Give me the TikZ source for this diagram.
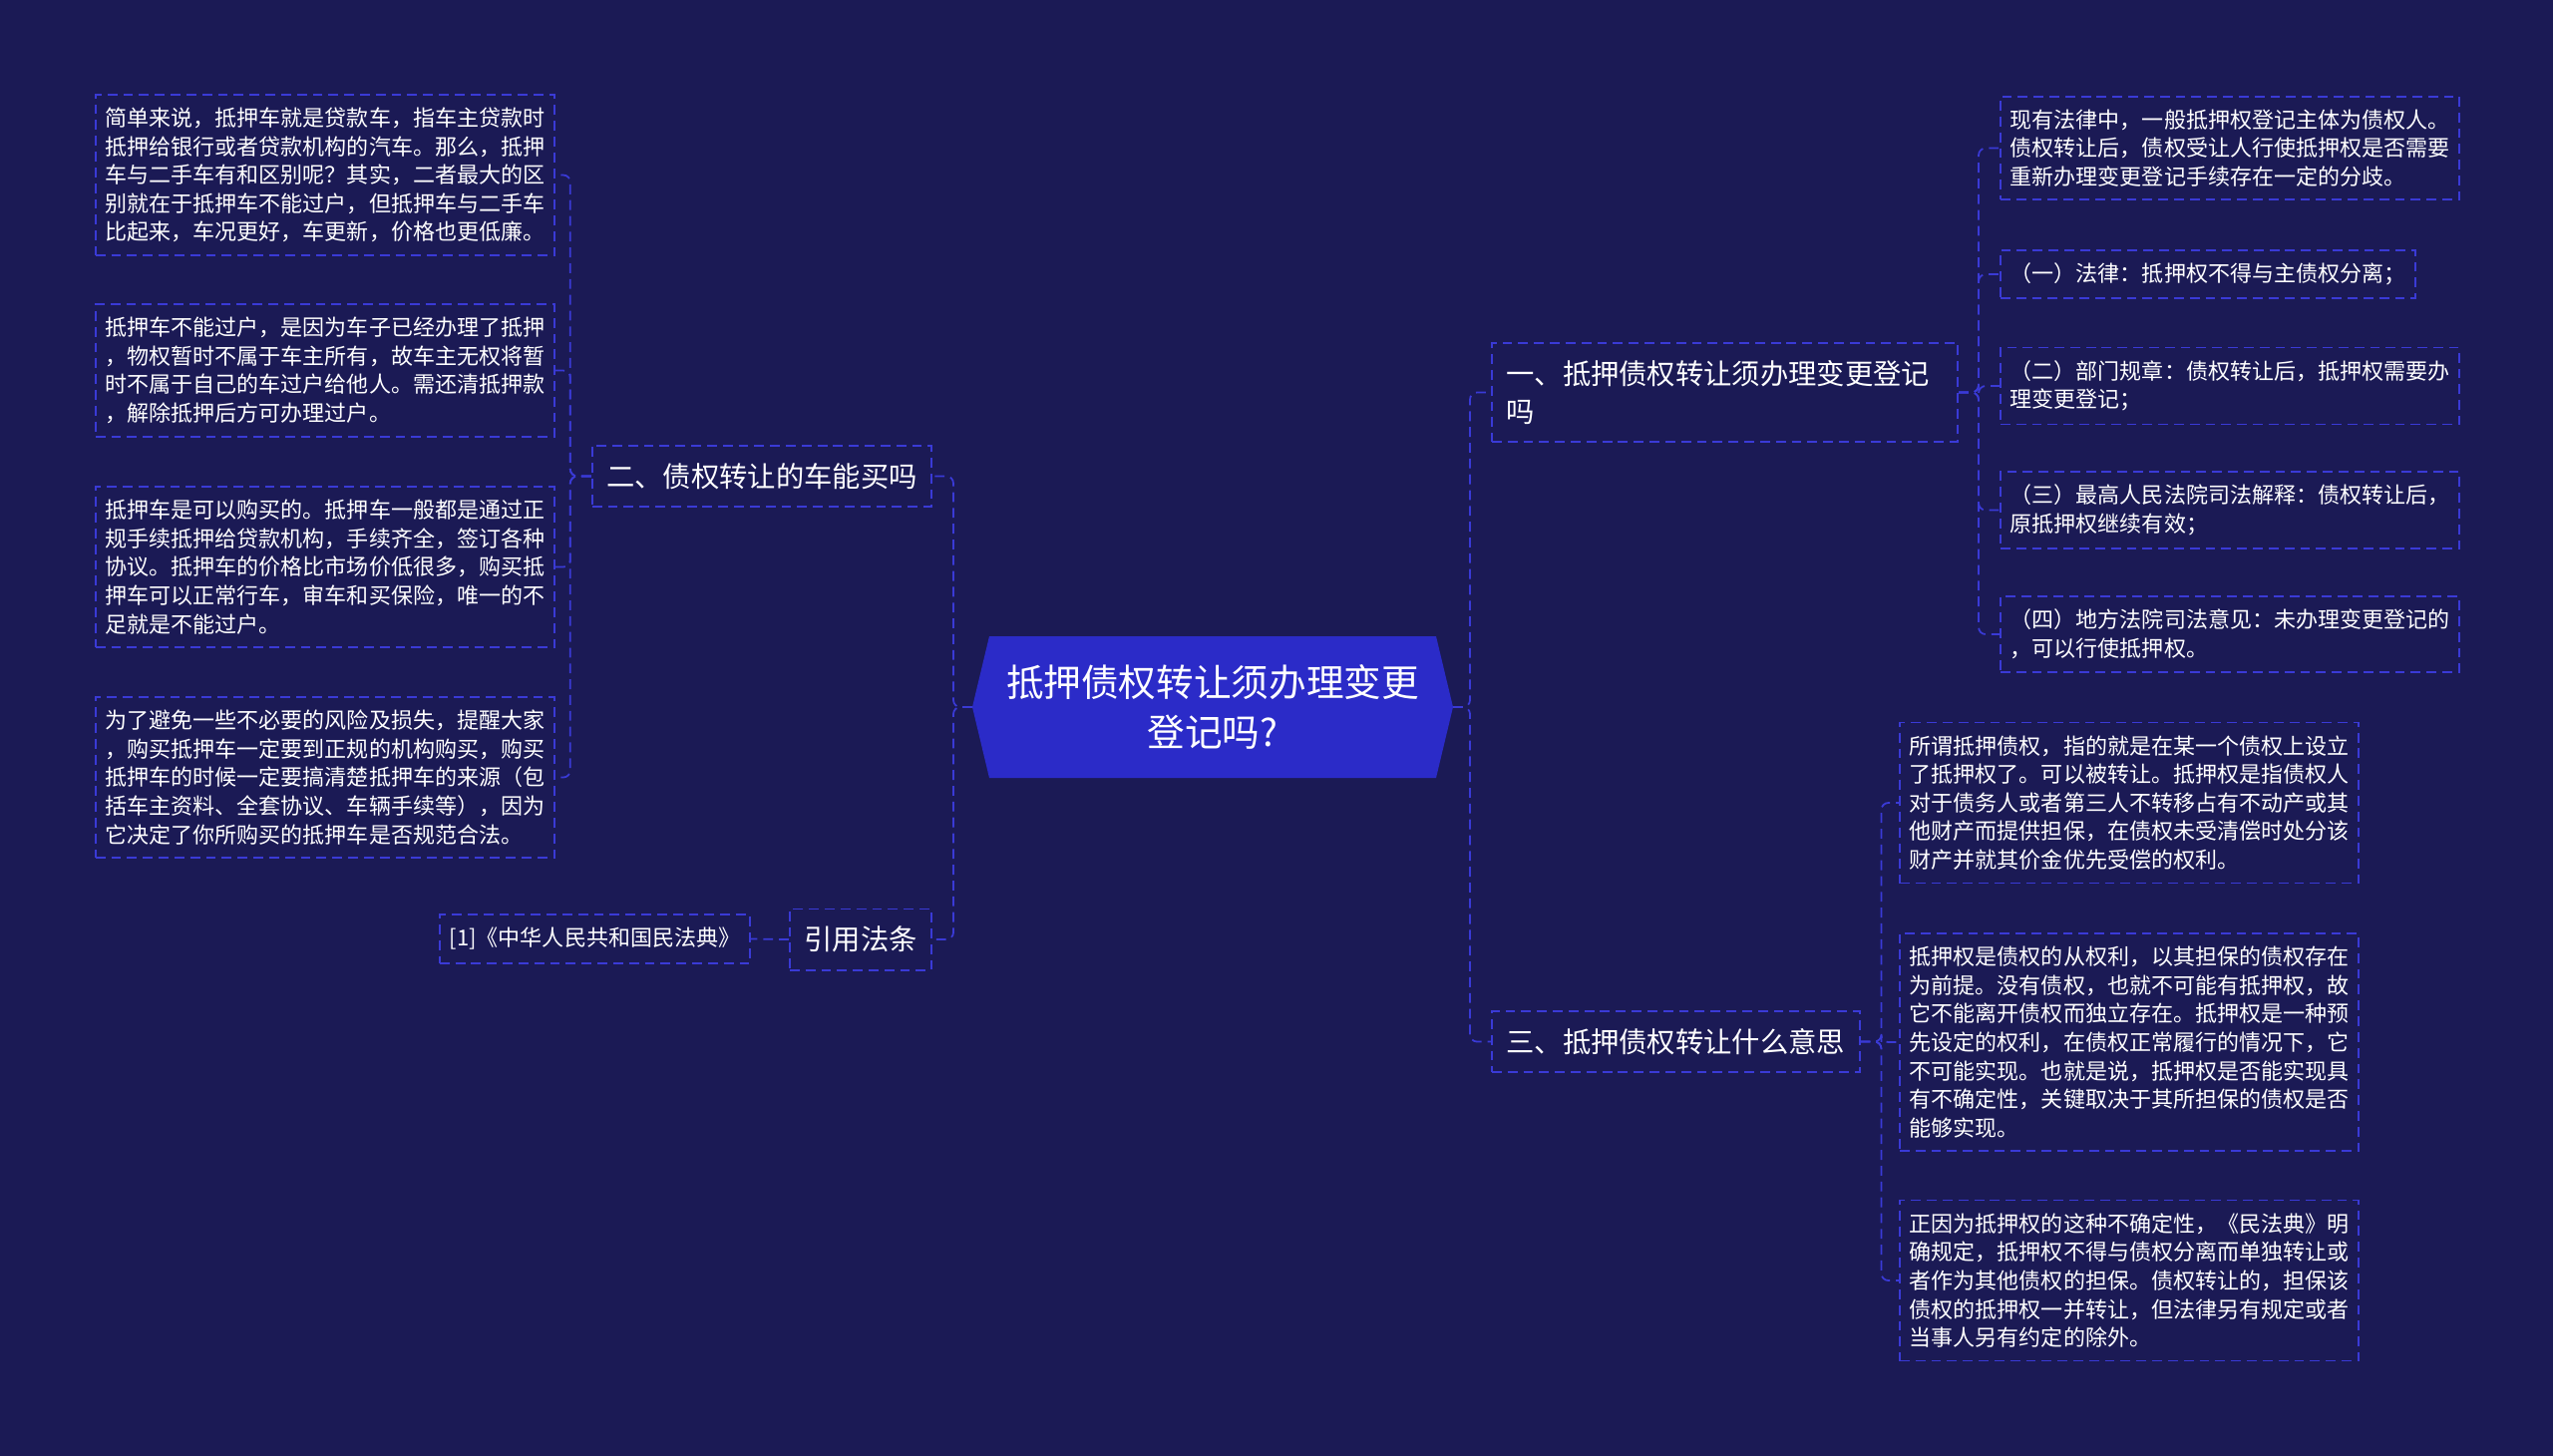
\documentclass[tikz,border=0pt]{standalone}
\usepackage{fontspec}
\setmainfont{Noto Sans CJK SC}
\usetikzlibrary{positioning}
\definecolor{bgnavy}{HTML}{1B1A55}
\definecolor{linkblue}{HTML}{3A3AD6}
\definecolor{hexblue}{HTML}{2B2BC8}

\begin{document}
\begin{tikzpicture}[x=0.01cm,y=-0.01cm,
  leaf/.style={draw=linkblue,line width=0.5pt,dash pattern=on 2.8pt off 1.7pt,text=white,align=left,
    inner xsep=0.1cm,inner ysep=0.13cm,font=\fontsize{6.26pt}{8.14pt}\selectfont},
  topic/.style={draw=linkblue,line width=0.5pt,dash pattern=on 2.8pt off 1.7pt,text=white,align=left,
    inner xsep=0.145cm,inner ysep=0.175cm,font=\fontsize{8.05pt}{10.7pt}\selectfont},
  rootbox/.style={text=white,align=center,minimum width=4.48cm,minimum height=1.42cm,inner sep=0pt,
    font=\fontsize{10.7pt}{14.4pt}\selectfont},
  link/.style={draw=linkblue,line width=0.5pt,dash pattern=on 2.8pt off 1.7pt,rounded corners=2pt}]
  \useasboundingbox (0,0) rectangle (2560,1459);
  \fill[bgnavy] (-20,-20) rectangle (2580,1479);

  % centre
  \fill[hexblue] (975,709) -- (992,638) -- (1440,638) -- (1457,709) -- (1440,780) -- (992,780) -- cycle;
  \node[rootbox] (root) at (1216,709) {抵押债权转让须办理变更\\登记吗?};
  \coordinate (rootW) at (975,709);
  \coordinate (rootE) at (1457,709);

  % left branch
  \node[topic,anchor=east] (two) at (935,477.5) {二、债权转让的车能买吗};
  \node[topic,anchor=east] (cite) at (935,942) {引用法条};
  \node[leaf,anchor=east] (ref) at (753,941.5) {[1]《中华人民共和国民法典》};
  \node[leaf,anchor=east] (l1) at (557,175.5) {简单来说，抵押车就是贷款车，指车主贷款时\\抵押给银行或者贷款机构的汽车。那么，抵押\\车与二手车有和区别呢？其实，二者最大的区\\别就在于抵押车不能过户，但抵押车与二手车\\比起来，车况更好，车更新，价格也更低廉。};
  \node[leaf,anchor=east] (l2) at (557,371.5) {抵押车不能过户，是因为车子已经办理了抵押\\，物权暂时不属于车主所有，故车主无权将暂\\时不属于自己的车过户给他人。需还清抵押款\\，解除抵押后方可办理过户。};
  \node[leaf,anchor=east] (l3) at (557,568.5) {抵押车是可以购买的。抵押车一般都是通过正\\规手续抵押给贷款机构，手续齐全，签订各种\\协议。抵押车的价格比市场价低很多，购买抵\\押车可以正常行车，审车和买保险，唯一的不\\足就是不能过户。};
  \node[leaf,anchor=east] (l4) at (557,779.5) {为了避免一些不必要的风险及损失，提醒大家\\，购买抵押车一定要到正规的机构购买，购买\\抵押车的时候一定要搞清楚抵押车的来源（包\\括车主资料、全套协议、车辆手续等），因为\\它决定了你所购买的抵押车是否规范合法。};

  % right branch
  \node[topic,anchor=west,text width=4.38cm] (one) at (1495,393.5) {一、抵押债权转让须办理变更登记\\吗};
  \node[topic,anchor=west] (three) at (1495,1044.5) {三、抵押债权转让什么意思};
  \node[leaf,anchor=west] (r1) at (2005,148.5) {现有法律中，一般抵押权登记主体为债权人。\\债权转让后，债权受让人行使抵押权是否需要\\重新办理变更登记手续存在一定的分歧。};
  \node[leaf,anchor=west] (r2) at (2005,275) {（一）法律：抵押权不得与主债权分离；};
  \node[leaf,anchor=west] (r3) at (2005,387) {（二）部门规章：债权转让后，抵押权需要办\\理变更登记；};
  \node[leaf,anchor=west] (r4) at (2005,511.5) {（三）最高人民法院司法解释：债权转让后，\\原抵押权继续有效；};
  \node[leaf,anchor=west] (r5) at (2005,636) {（四）地方法院司法意见：未办理变更登记的\\，可以行使抵押权。};
  \node[leaf,anchor=west] (s1) at (1904,805) {所谓抵押债权，指的就是在某一个债权上设立\\了抵押权了。可以被转让。抵押权是指债权人\\对于债务人或者第三人不转移占有不动产或其\\他财产而提供担保，在债权未受清偿时处分该\\财产并就其价金优先受偿的权利。};
  \node[leaf,anchor=west] (s2) at (1904,1045) {抵押权是债权的从权利，以其担保的债权存在\\为前提。没有债权，也就不可能有抵押权，故\\它不能离开债权而独立存在。抵押权是一种预\\先设定的权利，在债权正常履行的情况下，它\\不可能实现。也就是说，抵押权是否能实现具\\有不确定性，关键取决于其所担保的债权是否\\能够实现。};
  \node[leaf,anchor=west] (s3) at (1904,1284) {正因为抵押权的这种不确定性，《民法典》明\\确规定，抵押权不得与债权分离而单独转让或\\者作为其他债权的担保。债权转让的，担保该\\债权的抵押权一并转让，但法律另有规定或者\\当事人另有约定的除外。};

  % links
  \draw[link] (rootW) -- ++(-19,0) |- (two.east);
  \draw[link] (rootW) -- ++(-19,0) |- (cite.east);
  \draw[link] (rootE) -- ++(17,0) |- (one.west);
  \draw[link] (rootE) -- ++(17,0) |- (three.west);
  \foreach \n in {l1,l2,l3,l4}
    \draw[link] (two.west) -- ++(-21,0) |- (\n.east);
  \draw[link] (cite.west) -- (ref.east);
  \foreach \n in {r1,r2,r3,r4,r5}
    \draw[link] (one.east) -- ++(20,0) |- (\n.west);
  \foreach \n in {s1,s2,s3}
    \draw[link] (three.east) -- ++(21,0) |- (\n.west);
\end{tikzpicture}
\end{document}
